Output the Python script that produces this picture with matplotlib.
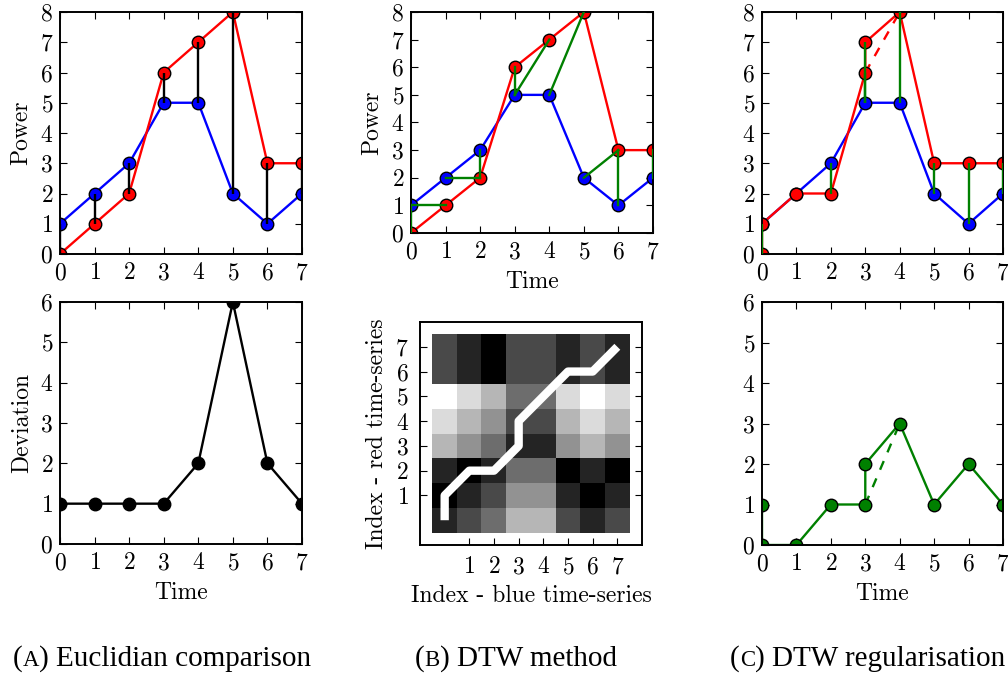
"""
Euclidean vs DTW comparison of two small power time-series (3 columns, 2 rows).
"""
import numpy as np
import matplotlib
matplotlib.use("Agg")
import matplotlib.pyplot as plt

# ---------- Data ----------
time = [0, 1, 2, 3, 4, 5, 6, 7]
blue = [1, 2, 3, 5, 5, 2, 1, 2]
red = [0, 1, 2, 6, 7, 8, 3, 3]
euclid_dev = [1, 1, 1, 1, 2, 6, 2, 1]

# DTW warping path: (blue index, red index)
path_blue = [0, 0, 1, 2, 3, 3, 4, 5, 6, 7]
path_red = [0, 1, 2, 2, 3, 4, 5, 6, 6, 7]

# red series warped onto blue time axis, and its deviation
reg_time = [0, 0, 1, 2, 3, 3, 4, 5, 6, 7]
reg_red = [0, 1, 2, 2, 6, 7, 8, 3, 3, 3]
reg_dev = [1, 0, 0, 1, 1, 2, 3, 1, 2, 1]
skip_a, skip_b = 4, 6  # dashed shortcut between these points

heat_ticks = [1, 2, 3, 4, 5, 6, 7]
captions = [("A", ") Euclidian comparison"),
            ("B", ") DTW method"),
            ("C", ") DTW regularisation")]

# cost matrix: rows = red index, cols = blue index
dist = np.abs(np.subtract.outer(np.array(red), np.array(blue)))

# ---------- Styling ----------
plt.rcParams.update({
    "font.family": "serif",
    "font.serif": ["cmr10"],
    "axes.formatter.use_mathtext": True,
    "font.size": 17,
    "axes.linewidth": 1.4,
    "axes.labelpad": 5,
    "xtick.direction": "in",
    "ytick.direction": "in",
    "xtick.top": True,
    "ytick.right": True,
    "xtick.major.size": 5,
    "ytick.major.size": 5,
    "xtick.major.pad": 6,
    "ytick.major.pad": 5,
})

W, H = 1008, 682
fig = plt.figure(figsize=(W / 100, H / 100), dpi=100)


def add_ax(left, top, right, bottom):
    return fig.add_axes([left / W, 1 - bottom / H, (right - left) / W, (bottom - top) / H])


LW = 1.7
MS = 9
mk = dict(marker="o", markersize=MS, markeredgecolor="k", markeredgewidth=1.0)


def series_ax(ax, ymax):
    ax.set_xlim(0, 7)
    ax.set_ylim(0, ymax)
    ax.set_xticks(time)
    ax.set_yticks(range(ymax + 1))


# ---- (A) Euclidean ----
axA1 = add_ax(60, 12, 302, 254)
axA1.plot(time, blue, color="b", lw=LW, zorder=2, **mk)
axA1.plot(time, red, color="r", lw=LW, zorder=2, **mk)
axA1.vlines(time, blue, red, colors="k", lw=LW, zorder=3)
series_ax(axA1, 8)
axA1.set_ylabel("Power")

axA2 = add_ax(60, 302, 302, 544)
axA2.plot(time, euclid_dev, color="k", lw=LW, marker="o", markersize=MS,
          markerfacecolor="k", markeredgecolor="k")
series_ax(axA2, 6)
axA2.set_ylabel("Deviation")
axA2.set_xlabel("Time")

# ---- (B) DTW ----
axB1 = add_ax(411, 12, 653, 233)
axB1.plot(time, blue, color="b", lw=LW, zorder=2, **mk)
axB1.plot(time, red, color="r", lw=LW, zorder=2, **mk)
for bi, rj in zip(path_blue, path_red):
    axB1.plot([bi, rj], [blue[bi], red[rj]], color="g", lw=LW, zorder=3)
series_ax(axB1, 8)
axB1.set_ylabel("Power")
axB1.set_xlabel("Time")

axB2 = add_ax(420, 322, 642, 545)
axB2.imshow(dist, cmap="gray", origin="lower", interpolation="nearest",
            vmin=0, vmax=7, extent=(-0.5, 7.5, -0.5, 7.5), aspect="auto")
axB2.plot(path_blue, path_red, color="w", lw=6, solid_capstyle="butt")
axB2.set_xlim(-1, 8)
axB2.set_ylim(-1, 8)
axB2.set_xticks(heat_ticks)
axB2.set_yticks(heat_ticks)
axB2.tick_params(top=False, pad=8)
axB2.set_xlabel("Index - blue time-series")
axB2.set_ylabel("Index - red time-series")

# ---- (C) DTW regularisation ----
axC1 = add_ax(762, 12, 1003, 254)
axC1.plot(time, blue, color="b", lw=LW, zorder=2, **mk)
axC1.plot(reg_time, reg_red, color="r", lw=LW, zorder=2, **mk)
axC1.plot([reg_time[skip_a], reg_time[skip_b]], [reg_red[skip_a], reg_red[skip_b]],
          color="r", lw=LW, ls=(0, (4, 4)), zorder=1)
axC1.vlines(reg_time, [blue[t] for t in reg_time], reg_red, colors="g", lw=LW, zorder=3)
series_ax(axC1, 8)

axC2 = add_ax(762, 302, 1003, 545)
axC2.plot(reg_time, reg_dev, color="g", lw=LW, zorder=2, **dict(mk, markerfacecolor="g"))
axC2.plot([reg_time[skip_a], reg_time[skip_b]], [reg_dev[skip_a], reg_dev[skip_b]],
          color="g", lw=LW, ls=(0, (4, 4)), zorder=1)
series_ax(axC2, 6)
axC2.set_xlabel("Time")

# ---- Captions with small-caps letter ----
cap_font = "Liberation Serif"
cap_fs = 21
base_y = 1 - 666 / H
for x0, (letter, rest) in zip([13, 415, 730], captions):
    t1 = fig.text(x0 / W, base_y, "(", fontsize=cap_fs, family=cap_font,
                  ha="left", va="baseline")
    t2 = axA1.annotate(letter, xy=(1, base_y), xycoords=(t1, "figure fraction"),
                       fontsize=cap_fs * 0.78, family=cap_font, ha="left",
                       va="baseline", annotation_clip=False)
    axA1.annotate(rest, xy=(1, base_y), xycoords=(t2, "figure fraction"),
                  fontsize=cap_fs, family=cap_font, ha="left", va="baseline",
                  annotation_clip=False)

fig.savefig("out.png", dpi=100)
